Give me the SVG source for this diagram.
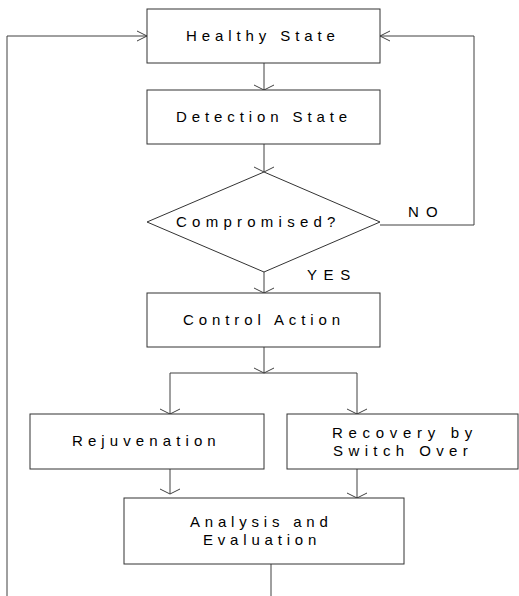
<svg xmlns="http://www.w3.org/2000/svg" width="519" height="596" viewBox="0 0 519 596">
<style>
  .box { fill: #ffffff; stroke: #333333; stroke-width: 1; }
  .ln { fill: none; stroke: #404040; stroke-width: 1; }
  .ah { fill: none; stroke: #404040; stroke-width: 1; }
  text { font-family: "Liberation Sans", Arial, sans-serif; font-size: 15px; fill: #000000; }
</style>
<rect width="519" height="596" fill="#ffffff"/>

<g id="connectors">
  <!-- Healthy -> Detection -->
  <line class="ln" x1="264" y1="63" x2="264" y2="90"/>
  <polyline class="ah" points="254,85 264,90 274,85"/>
  <!-- Detection -> Compromised -->
  <line class="ln" x1="264" y1="144" x2="264" y2="172"/>
  <polyline class="ah" points="254,167 264,172 274,167"/>
  <!-- Compromised -> Control (YES) -->
  <line class="ln" x1="264" y1="272" x2="264" y2="293"/>
  <polyline class="ah" points="254,288 264,293 274,288"/>
  <!-- NO loop -->
  <polyline class="ln" points="380,225 474,225 474,36 380,36"/>
  <polyline class="ah" points="390,31 380,36 390,41"/>
  <!-- Left loop from bottom back to Healthy -->
  <polyline class="ln" points="7,596 7,36 147,36"/>
  <polyline class="ah" points="137,31 147,36 137,41"/>
  <!-- Control -> split -->
  <line class="ln" x1="264" y1="347" x2="264" y2="373"/>
  <polyline class="ah" points="254,368 264,373 274,368"/>
  <line class="ln" x1="170" y1="373" x2="357" y2="373"/>
  <line class="ln" x1="170" y1="373" x2="170" y2="414"/>
  <polyline class="ah" points="160,409 170,414 180,409"/>
  <line class="ln" x1="357" y1="373" x2="357" y2="414"/>
  <polyline class="ah" points="347,409 357,414 367,409"/>
  <!-- Rejuvenation -> Analysis -->
  <line class="ln" x1="170" y1="469" x2="170" y2="494"/>
  <polyline class="ah" points="160,489 170,494 180,489"/>
  <!-- Recovery -> Analysis -->
  <line class="ln" x1="357" y1="469" x2="357" y2="498"/>
  <polyline class="ah" points="347,493 357,498 367,493"/>
  <!-- Analysis -> bottom -->
  <line class="ln" x1="271" y1="564" x2="271" y2="596"/>
  <!-- labels -->
  <text x="408" y="217" letter-spacing="7.2">NO</text>
  <text x="307" y="280" letter-spacing="6.6">YES</text>
</g>

<g id="healthy">
  <rect class="box" x="147" y="9" width="233" height="54"/>
  <text x="186" y="41" letter-spacing="4.9">Healthy State</text>
</g>

<g id="detection">
  <rect class="box" x="147" y="90" width="233" height="54"/>
  <text x="176" y="122" letter-spacing="4.9">Detection State</text>
</g>

<g id="compromised">
  <polygon class="box" points="264,172 380,222 264,272 147,222"/>
  <text x="176" y="227" letter-spacing="5.25">Compromised?</text>
</g>

<g id="control">
  <rect class="box" x="147" y="293" width="233" height="54"/>
  <text x="183" y="325" letter-spacing="4.9">Control Action</text>
</g>

<g id="rejuvenation">
  <rect class="box" x="30" y="414" width="234" height="55"/>
  <text x="72" y="446" letter-spacing="5.1">Rejuvenation</text>
</g>

<g id="recovery">
  <rect class="box" x="287" y="414" width="231" height="55"/>
  <text x="332" y="438" letter-spacing="5.7">Recovery by</text>
  <text x="333" y="456" letter-spacing="5.4">Switch Over</text>
</g>

<g id="analysis">
  <rect class="box" x="124" y="498" width="280" height="66"/>
  <text x="190" y="527" letter-spacing="4.8">Analysis and</text>
  <text x="203" y="545" letter-spacing="4.8">Evaluation</text>
</g>
</svg>
